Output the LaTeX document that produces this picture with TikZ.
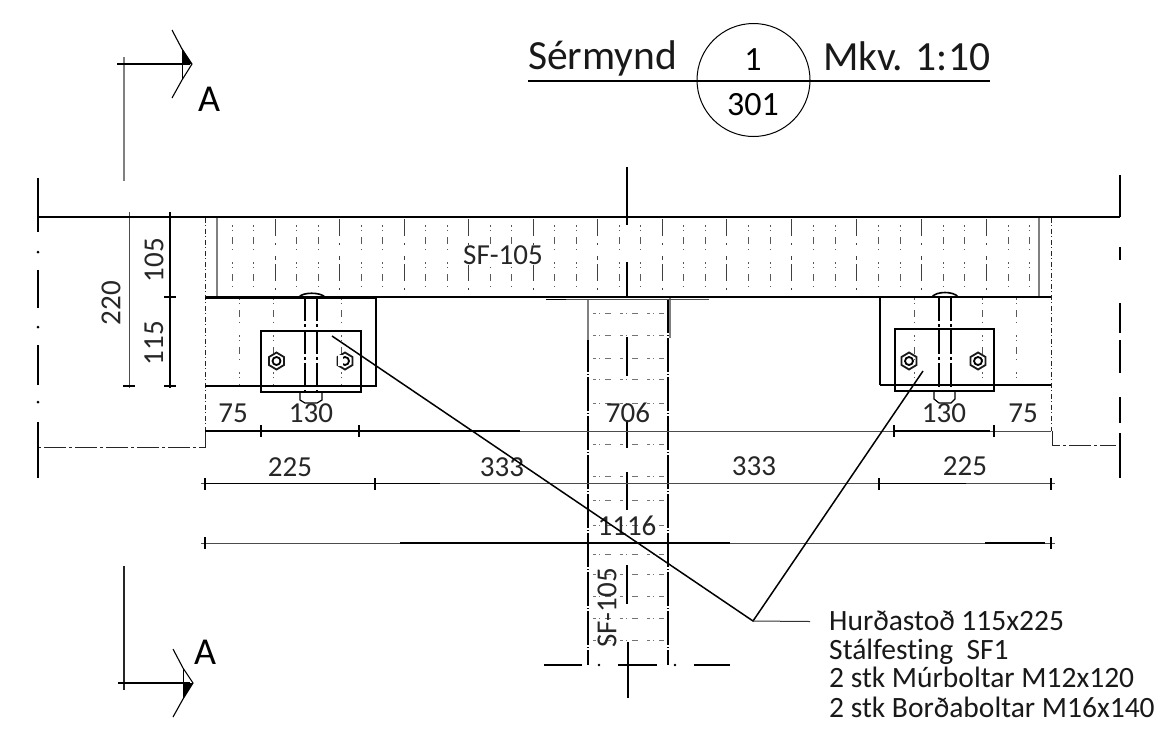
\documentclass[tikz,border=0pt]{standalone}
\usepackage{fontspec}
\setmainfont{Carlito}[Ligatures=NoCommon]
\tikzset{
 x=1pt,y=-1pt,
 ln/.style={line width=1.2pt,black},
 heavy/.style={line width=1.6pt,black},
 thinl/.style={line width=.9pt,black!70},
 grey/.style={line width=1.2pt,black!50},
 hat/.style={line width=.9pt,black!65,dash pattern=on 2pt off 3pt on 1pt off 6pt on 7pt off 5pt on 1pt off 12pt},
 hatb/.style={line width=1pt,black!75,dash pattern=on 17pt off 7pt on 2pt off 11pt on 4pt off 4pt},
 edge/.style={line width=1pt,black!85,dash pattern=on 5pt off 2pt on 1pt off 3pt},
 edgeb/.style={line width=1pt,black!85,dash pattern=on 22pt off 3pt on 3pt off 3pt},
 dim/.style={font=\fontsize{29}{29}\selectfont,inner sep=0pt,text=black!85},
 ttl/.style={font=\fontsize{41.5}{41.5}\selectfont,inner sep=0pt,text=black!90},
 note/.style={font=\fontsize{29.5}{29.5}\selectfont,inner sep=0pt,anchor=base west,text=black!90},
 cen/.style={line width=1.3pt,black},
 nutst/.style={line width=1.8pt,black!90},
 leader/.style={line width=1.5pt,black},
}
\newcommand{\tickmark}[2]{\draw[heavy] (#1,#2-6) -- (#1,#2+6);}
\newcommand{\hexnut}[2]{%
  \draw[nutst] (#1,#2-8.5) -- (#1+7.5,#2-4) -- (#1+7.5,#2+4) -- (#1,#2+8.5) -- (#1-7.5,#2+4) -- (#1-7.5,#2-4) -- cycle;
  \draw[line width=1.8pt] (#1,#2) circle (4);}
\newcommand{\chev}[3]{% apex x,y, fill direction
  \draw[line width=1.1pt] (#1-20,#2-34) -- (#1-10,#2-15) -- (#1,#2) -- (#1-10,#2+16) -- (#1-20,#2+34);
  \fill (#1-10,#2+#3*16) -- (#1,#2) -- (#1-10,#2) -- cycle;
  \draw[line width=.8pt] (#1-10,#2-15) -- (#1-10,#2+16);}
\begin{document}
\begin{tikzpicture}
\useasboundingbox (0,0) rectangle (1158,750);
\fill[white] (0,0) rectangle (1158,750);
% title
\node[ttl,anchor=base west] (t1) at (528,69) {Sérmynd};
\node[ttl,anchor=base west] (t2) at (823,70) {Mkv. 1:10};
\draw[line width=1.3pt] (528,81) -- (990,81);
\draw[line width=1pt] (753.5,80) circle (56.5);
\node[font=\fontsize{34}{34}\selectfont,inner sep=0pt] (n1) at (753,60) {1};
\node[font=\fontsize{34}{34}\selectfont,inner sep=0pt] (n2) at (753,105) {301};
% section marks
\draw[grey] (124,57) -- (124,181);
\draw[ln] (117,64) -- (190,64);
\chev{192}{64}{-1}
\node[font=\fontsize{38}{38}\selectfont,inner sep=0pt] (a1) at (209,99) {A};
\draw[line width=1.3pt,black!85] (124,566) -- (124,690);
\draw[ln] (118,683) -- (190,683);
\chev{193}{683}{1}
\node[font=\fontsize{38}{38}\selectfont,inner sep=0pt] (a2) at (205,652) {A};
% wall hatching
\foreach \x [count=\i] in {232,253,275,296,318,339,361,382,404,425,447,468,490,511,533,554,576,597,619,640,662,683,705,726,748,770,791,813,835,856,878,900,921,943,964,986,1008,1029} {
  \pgfmathparse{mod(\i,3)==0?1:0}
  \ifnum\pgfmathresult=1\relax
    \draw[hatb] (\x,219) -- (\x,296);
  \else
    \draw[hat] (\x,225) -- (\x,296);
  \fi
}
\node[dim,fill=white,inner xsep=1pt] (sf1) at (503,255) {SF-105};
% wall and frame
\draw[heavy] (38,217) -- (1120,217);
\draw[heavy] (205,297) -- (1051,297);
\draw[grey] (217,218) -- (217,296);
\draw[grey] (1039,218) -- (1039,296);
\draw[edge] (205,218) -- (205,431);
\draw[edge] (1051,218) -- (1051,431);
\draw[edgeb] (205,431) -- (205,447) -- (38,447);
\draw[edgeb] (1052,431) -- (1052,445) -- (1116,445);
% end break lines
\draw[heavy] (38,178) -- (38,232) (38,270) -- (38,308) (38,345) -- (38,385) (38,422) -- (38,478);
\fill (38,252) circle (1.5) (38,327) circle (1.5) (38,402) circle (1.5);
\draw[heavy] (1120,175) -- (1120,217) (1120,247) -- (1120,260) (1120,303) -- (1120,333) (1120,340) -- (1120,373) (1120,397) -- (1120,423) (1120,433) -- (1120,478);
% posts
\foreach \x in {239,273,341} \draw[hat] (\x,298) -- (\x,385);
\foreach \x in {914,982,1016} \draw[hat] (\x,298) -- (\x,385);
\draw[ln] (205,298) -- (376,298) -- (376,386) -- (205,386);
\draw[ln] (880,385) -- (880,298);
\draw[ln] (880,385) -- (1051,385);
% plates
\draw[ln] (261,331) rectangle (361,392);
\draw[ln] (895,329) rectangle (994,391);
% bolts
\draw[heavy] (299,297) .. controls (303,292) and (320,292) .. (325,297);
\draw[heavy,dash pattern=on 24pt off 3pt on 3pt off 3pt] (305,297) -- (305,392);
\draw[heavy,dash pattern=on 24pt off 3pt on 3pt off 3pt] (317,297) -- (317,392);
\draw[ln] (300,392) -- (300,400) -- (305,403) -- (317,403) -- (322,400) -- (322,392);
\draw[heavy] (932,297) .. controls (936,291) and (954,291) .. (958,297);
\draw[heavy,dash pattern=on 24pt off 3pt on 3pt off 3pt] (939,297) -- (939,391);
\draw[heavy,dash pattern=on 24pt off 3pt on 3pt off 3pt] (951,297) -- (951,391);
\draw[ln] (934,391) -- (934,399) -- (939,403) -- (951,403) -- (955,399) -- (955,391);
\hexnut{276.5}{361}
\hexnut{345}{361}
\fill[white] (338,355) rectangle (343,366);
\hexnut{909}{361}
\hexnut{978}{361}
% column
\foreach \y in {313,335,358,379,403,444,476,500,525,554,574,596,618,640} {
  \draw[line width=.7pt,black!55,dash pattern=on 3pt off 3pt on 1pt off 5pt on 6pt off 9pt] (593,\y) -- (664,\y);
}
\draw[line width=1.3pt,dash pattern=on 34pt off 2pt on 1pt off 2pt] (588,299) -- (588,665);
\draw[line width=1.3pt,dash pattern=on 34pt off 2pt on 1pt off 2pt] (668,299) -- (668,665);
\draw[grey] (588,300) -- (588,340);
\draw[grey] (670,298) -- (670,338);
\draw[heavy] (546,299.5) -- (566,299.5);
\draw[thinl] (566,299.5) -- (709,299.5);
% centre line
\draw[cen] (627,167) -- (627,225);
\draw[cen] (627,262) -- (627,297);
\draw[cen] (627,337) -- (627,376);
\draw[cen] (627,420) -- (627,448);
\draw[cen] (627,472) -- (627,510);
\draw[cen] (627,565) -- (627,604);
\draw[cen] (628,642) -- (628,698);
% bottom break
\draw[ln] (544,665) -- (582,665) (618,665) -- (657,665) (694,665) -- (730,665);
\fill (599,665) circle (1.3) (675,665) circle (1.3);
% dimensions
\draw[thinl] (205,431) -- (1051,431);
\tickmark{261}{431}
\tickmark{359}{431}
\tickmark{894}{431}
\tickmark{994}{431}
\draw[ln] (205,431) -- (520,431) (894,431) -- (990,431);
\draw[thinl] (201,483.5) -- (1055,483.5);
\draw[heavy] (205,483.5) -- (440,483.5) (879,483.5) -- (966,483.5);
\foreach \x in {205,375,879,1051} {\tickmark{\x}{484}}
\draw[thinl] (201,543) -- (1055,543);
\draw[ln] (400,543) -- (730,543) (985,543) -- (1045,543);
\foreach \x in {205,1051} {\tickmark{\x}{543}}
\draw[thinl] (129,212) -- (129,388);
\draw[ln] (170,212) -- (170,388);
\foreach \y in {217,386} {\draw[heavy] (123,\y) -- (135,\y);\draw[heavy] (164,\y) -- (176,\y);}
\draw[heavy] (164,297) -- (176,297);
% dim text
\node[dim] (d75a) at (233,413) {75};
\node[dim] (d130a) at (311,413) {130};
\node[dim] (d706) at (628,413) {706};
\node[dim] (d130b) at (944,413) {130};
\node[dim] (d75b) at (1023,413) {75};
\node[dim] (d225a) at (290,467) {225};
\node[dim] (d333a) at (502,467) {333};
\node[dim] (d333b) at (754,466) {333};
\node[dim] (d225b) at (965,466) {225};
\node[dim] (d1116) at (627,526) {1116};
\node[dim,rotate=90] (d220) at (111,303) {220};
\node[dim,rotate=90] (d105) at (154,260) {105};
\node[dim,rotate=90] (d115) at (154,343) {115};
\node[dim,rotate=90] (sf2) at (607,608) {SF-105};
% leaders
\coordinate (hub) at (753,621);
\coordinate (ld1) at (332,336);
\coordinate (ld2) at (923,371);
\coordinate (ld3) at (810,621.5);
\draw[leader] (ld1) -- (hub) -- (ld2);
\draw[line width=1pt,black!80] (hub) -- (ld3);
% note
\node[note] (c1) at (829,630) {Hurðastoð 115x225};
\node[note] (c2) at (829,659) {Stálfesting\ \ SF1};
\node[note] (c3) at (829,687) {2 stk Múrboltar M12x120};
\node[note] (c4) at (829,717) {2 stk Borðaboltar M16x140};
\end{tikzpicture}
\end{document}
